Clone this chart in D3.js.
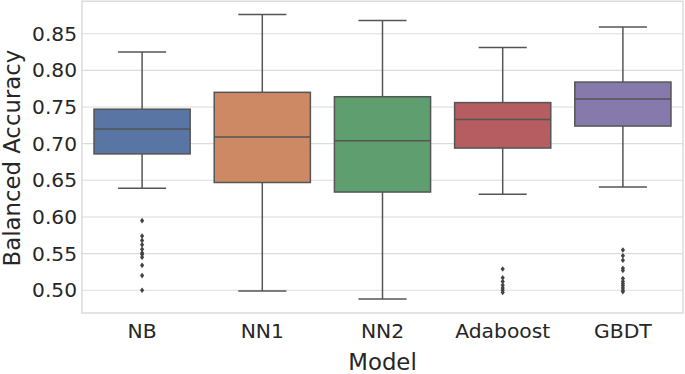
<!DOCTYPE html>
<html>
<head>
<meta charset="utf-8">
<script src="https://cdn.jsdelivr.net/npm/d3@7"></script>
<style>
  html, body { margin: 0; padding: 0; background: #fff; }
  svg { display: block; font-family: "DejaVu Sans", sans-serif; }
</style>
</head>
<body>
<svg id="chart" width="685" height="374"></svg>
<script>
// model names on the x axis
var models = ['NB', 'NN1', 'NN2', 'Adaboost', 'GBDT'];

// box statistics per model
var whiskerLow = [0.639, 0.499, 0.488, 0.631, 0.641];
var quartile1 = [0.686, 0.647, 0.634, 0.694, 0.724];
var medians = [0.720, 0.709, 0.704, 0.733, 0.761];
var quartile3 = [0.747, 0.770, 0.764, 0.756, 0.784];
var whiskerHigh = [0.825, 0.876, 0.868, 0.831, 0.859];

// outliers (fliers) per model
var fliers = [
  [0.595, 0.574, 0.568, 0.562, 0.556, 0.551, 0.549, 0.545, 0.534, 0.520, 0.500],
  [],
  [],
  [0.529, 0.517, 0.512, 0.507, 0.503, 0.500, 0.497],
  [0.555, 0.547, 0.541, 0.530, 0.527, 0.516, 0.512, 0.509, 0.506, 0.503, 0.500, 0.498]
];

var yTicks = [0.50, 0.55, 0.60, 0.65, 0.70, 0.75, 0.80, 0.85];

// desaturated seaborn "deep" colours
var boxColors = ['#5875a4', '#cc8963', '#5f9e6e', '#b55d60', '#857aab'];

var svg = d3.select('#chart');
var margin = { top: 1.2, right: 2, bottom: 61, left: 82 };
var width = 685 - margin.left - margin.right;
var height = 374 - margin.top - margin.bottom;

var x = d3.scaleBand()
  .domain(models)
  .range([0, width])
  .padding(0);

var y = d3.scaleLinear()
  .domain([0.469, 0.8943])
  .range([height, 0]);

var g = svg.append('g')
  .attr('transform', 'translate(' + margin.left + ',' + margin.top + ')');

// horizontal grid
g.selectAll('line.grid')
  .data(yTicks)
  .enter().append('line')
  .attr('class', 'grid')
  .attr('x1', 0)
  .attr('x2', width)
  .attr('y1', function(d) { return y(d); })
  .attr('y2', function(d) { return y(d); })
  .attr('stroke', '#dcdcdc')
  .attr('stroke-width', 1.1);

// frame (all four spines in light gray)
g.append('rect')
  .attr('x', 0)
  .attr('y', 0)
  .attr('width', width)
  .attr('height', height)
  .attr('fill', 'none')
  .attr('stroke', '#d6d6d6')
  .attr('stroke-width', 1.3);

// y tick labels
var yAxis = d3.axisLeft(y)
  .tickValues(yTicks)
  .tickFormat(d3.format('.2f'))
  .tickSize(0)
  .tickPadding(5);

g.append('g')
  .call(yAxis)
  .call(function(sel) { sel.select('.domain').remove(); })
  .selectAll('text')
  .attr('font-size', '20.2px')
  .attr('font-family', '"DejaVu Sans", sans-serif')
  .attr('fill', '#262626');

// x tick labels
var xAxis = d3.axisBottom(x)
  .tickSize(0)
  .tickPadding(11);

g.append('g')
  .attr('transform', 'translate(0,' + height + ')')
  .call(xAxis)
  .call(function(sel) { sel.select('.domain').remove(); })
  .selectAll('text')
  .attr('font-size', '20.3px')
  .attr('font-family', '"DejaVu Sans", sans-serif')
  .attr('fill', '#262626');

// axis titles
svg.append('text')
  .attr('x', margin.left + width / 2)
  .attr('y', 370)
  .attr('text-anchor', 'middle')
  .attr('font-size', '22.8px')
  .attr('fill', '#262626')
  .text('Model');

svg.append('text')
  .attr('transform', 'translate(19.5,' + (margin.top + height / 2 + 1) + ') rotate(-90)')
  .attr('text-anchor', 'middle')
  .attr('font-size', '22.8px')
  .attr('fill', '#262626')
  .text('Balanced Accuracy');

// boxes
var lineColor = '#555555';
var boxWidth = x.bandwidth() * 0.8;

var boxes = g.selectAll('g.box')
  .data(models)
  .enter().append('g')
  .attr('class', 'box')
  .attr('transform', function(d) {
    return 'translate(' + (x(d) + x.bandwidth() / 2) + ',0)';
  });

// whiskers
boxes.append('line')
  .attr('x1', 0).attr('x2', 0)
  .attr('y1', function(d, i) { return y(whiskerHigh[i]); })
  .attr('y2', function(d, i) { return y(quartile3[i]); })
  .attr('stroke', lineColor).attr('stroke-width', 1.5);

boxes.append('line')
  .attr('x1', 0).attr('x2', 0)
  .attr('y1', function(d, i) { return y(quartile1[i]); })
  .attr('y2', function(d, i) { return y(whiskerLow[i]); })
  .attr('stroke', lineColor).attr('stroke-width', 1.5);

// caps
[whiskerHigh, whiskerLow].forEach(function(arr) {
  boxes.append('line')
    .attr('x1', -boxWidth / 4).attr('x2', boxWidth / 4)
    .attr('y1', function(d, i) { return y(arr[i]); })
    .attr('y2', function(d, i) { return y(arr[i]); })
    .attr('stroke', lineColor).attr('stroke-width', 1.5);
});

boxes.append('rect')
  .attr('x', -boxWidth / 2)
  .attr('width', boxWidth)
  .attr('y', function(d, i) { return y(quartile3[i]); })
  .attr('height', function(d, i) { return y(quartile1[i]) - y(quartile3[i]); })
  .attr('fill', function(d, i) { return boxColors[i]; })
  .attr('stroke', lineColor)
  .attr('stroke-width', 1.5);

boxes.append('line')
  .attr('x1', -boxWidth / 2).attr('x2', boxWidth / 2)
  .attr('y1', function(d, i) { return y(medians[i]); })
  .attr('y2', function(d, i) { return y(medians[i]); })
  .attr('stroke', lineColor).attr('stroke-width', 1.5);

// outliers as small diamonds
boxes.each(function(d, i) {
  d3.select(this).selectAll('path.flier')
    .data(fliers[i])
    .enter().append('path')
    .attr('class', 'flier')
    .attr('d', 'M0,-2.8L2.1,0L0,2.8L-2.1,0Z')
    .attr('transform', function(v) { return 'translate(0,' + y(v) + ')'; })
    .attr('fill', '#444444');
});
</script>
</body>
</html>
